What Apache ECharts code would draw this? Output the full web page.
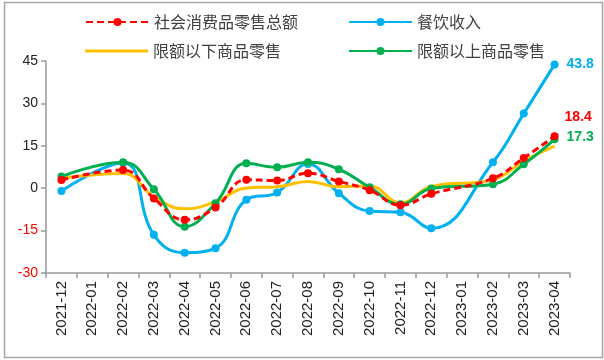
<!DOCTYPE html>
<html>
<head>
<meta charset="utf-8">
<script src="https://cdn.jsdelivr.net/npm/echarts@6/dist/echarts.min.js"></script>
<style>html,body{margin:0;padding:0;background:#fff;}#c{width:604px;height:360px;}</style>
</head>
<body>
<div id="c"></div>
<script>
var categories = ['2021-12','2022-01','2022-02','2022-03','2022-04','2022-05','2022-06','2022-07','2022-08','2022-09','2022-10','2022-11','2022-12','2023-01','2023-02','2023-03','2023-04'];
var totalRetail = [2.9, null, 6.4, -3.6, -11.2, -6.8, 3.0, 2.7, 5.3, 2.4, -0.7, -6.0, -2.0, null, 3.5, 10.7, 18.4];
var catering = [-1.0, null, 8.9, -16.5, -22.8, -21.2, -4.1, -1.5, 8.6, -1.8, -8.1, -8.5, -14.2, null, 9.2, 26.4, 43.8];
var belowLimit = [3.5, null, 5.2, -3.0, -7.3, -4.8, 0.1, 0.5, 2.4, 0.5, 0.8, -5.2, 0.6, null, 3.0, 9.6, 14.9];
var aboveLimit = [4.1, null, 9.2, -0.4, -13.6, -5.3, 8.8, 7.4, 9.2, 6.7, 0.3, -5.7, -0.1, null, 1.4, 8.5, 17.3];
var yTicks = [-30, -15, 0, 15, 30, 45];

var chart = echarts.init(document.getElementById('c'));
var cjk = '"Noto Sans CJK SC", "Liberation Sans", sans-serif';
var num = '"Liberation Sans", sans-serif';
function lastLabel(color, offset) {
  return {
    show: true, position: 'right', distance: 8, offset: offset,
    color: color, fontWeight: 'bold', fontSize: 14, fontFamily: num,
    formatter: function (p) { return p.dataIndex === categories.length - 1 ? p.value : ''; }
  };
}
function legend(name, left, top, plain) {
  var l = {
    data: [plain ? { name: name, icon: 'rect' } : name], left: left, top: top,
    itemWidth: 63, itemHeight: plain ? 3 : 10, itemGap: 0,
    textStyle: { fontSize: 16, color: '#404040', fontFamily: cjk }
  };
  return l;
}
chart.setOption({
  animation: false,
  backgroundColor: '#fff',
  graphic: [{
    type: 'rect', left: 2, top: 0, shape: { width: 598, height: 355 },
    style: { fill: 'none', stroke: '#a6a6a6', lineWidth: 1.5 }, silent: true
  }],
  legend: [
    legend('社会消费品零售总额', 80, 9),
    legend('餐饮收入', 343, 9),
    legend('限额以下商品零售', 80, 38, true),
    legend('限额以上商品零售', 343, 38)
  ],
  grid: { left: 46, right: 34, top: 61, bottom: 87, containLabel: false },
  xAxis: {
    type: 'category', data: categories, boundaryGap: true,
    axisLine: { onZero: false, lineStyle: { color: '#999', width: 1.5 } },
    axisTick: { show: true, inside: false, length: 5, lineStyle: { color: '#999', width: 1.5 } },
    axisLabel: { rotate: 90, interval: 0, fontSize: 15, color: '#222', fontFamily: num, margin: 8 }
  },
  yAxis: {
    type: 'value', min: yTicks[0], max: yTicks[yTicks.length - 1], interval: 15,
    splitLine: { show: false },
    axisLine: { show: true, lineStyle: { color: '#999', width: 1.5 } },
    axisTick: { show: true, length: 5, lineStyle: { color: '#999', width: 1.5 } },
    axisLabel: {
      fontSize: 14, fontFamily: num, margin: 8,
      color: function (v) { return Number(v) < 0 ? '#ff0000' : '#222'; }
    }
  },
  series: [
    {
      name: '社会消费品零售总额', type: 'line', data: totalRetail, smooth: 0.45, connectNulls: true,
      symbol: 'circle', symbolSize: 8, z: 4,
      lineStyle: { color: '#ff0000', width: 3, type: [7, 4] },
      itemStyle: { color: '#ff0000' },
      label: lastLabel('#ff0000', [-2, -19])
    },
    {
      name: '餐饮收入', type: 'line', data: catering, smooth: 0.45, connectNulls: true,
      symbol: 'circle', symbolSize: 8, z: 2,
      lineStyle: { color: '#00b0f0', width: 3 },
      itemStyle: { color: '#00b0f0' },
      label: lastLabel('#00b0f0', [0, 0])
    },
    {
      name: '限额以下商品零售', type: 'line', data: belowLimit, smooth: 0.45, connectNulls: true,
      symbol: 'none', showSymbol: false, z: 3,
      lineStyle: { color: '#ffc000', width: 3 },
      itemStyle: { color: '#ffc000' }
    },
    {
      name: '限额以上商品零售', type: 'line', data: aboveLimit, smooth: 0.45, connectNulls: true,
      symbol: 'circle', symbolSize: 8, z: 3,
      lineStyle: { color: '#00b050', width: 3 },
      itemStyle: { color: '#00b050' },
      label: lastLabel('#00b050', [0, -2])
    }
  ]
});
</script>
</body>
</html>
